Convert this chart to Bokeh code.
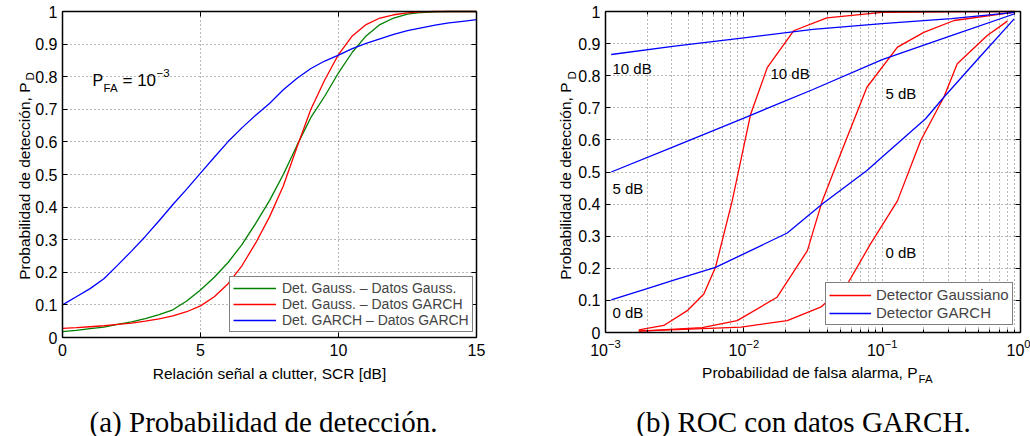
import math
from bokeh.plotting import figure
from bokeh.models import (Range1d, FixedTicker, LinearAxis, LogAxis, Label,
                          Legend, LegendItem, Grid)
from bokeh.layouts import row
from bokeh.embed import file_html
from bokeh.resources import INLINE

# ---------------- panel (a): P_D vs SCR ----------------
scr_db = [0, 0.5, 1, 1.5, 2, 2.5, 3, 3.5, 4, 4.5, 5, 5.5, 6, 6.5, 7, 7.5,
          8, 8.5, 9, 9.5, 10, 10.5, 11, 11.5, 12, 12.5, 13, 13.5, 14, 14.5, 15]
pd_gauss_gauss = [0.018, 0.022, 0.027, 0.032, 0.040, 0.048, 0.058, 0.070, 0.085,
                  0.112, 0.146, 0.185, 0.230, 0.285, 0.350, 0.420, 0.500, 0.590,
                  0.675, 0.740, 0.812, 0.875, 0.925, 0.960, 0.980, 0.992, 0.997,
                  0.999, 1.0, 1.0, 1.0]
pd_gauss_garch = [0.028, 0.030, 0.033, 0.036, 0.040, 0.044, 0.050, 0.057, 0.066,
                  0.079, 0.097, 0.125, 0.165, 0.220, 0.290, 0.370, 0.465, 0.585,
                  0.700, 0.790, 0.868, 0.925, 0.960, 0.980, 0.990, 0.996, 0.999,
                  1.0, 1.0, 1.0, 1.0]
pd_garch_garch = [0.100, 0.125, 0.150, 0.180, 0.222, 0.265, 0.310, 0.358, 0.408,
                  0.455, 0.504, 0.553, 0.601, 0.643, 0.682, 0.718, 0.760, 0.795,
                  0.825, 0.848, 0.866, 0.886, 0.902, 0.916, 0.930, 0.941, 0.950,
                  0.958, 0.965, 0.970, 0.975]
legend_a = ["Det. Gauss. \u2013 Datos Gauss.", "Det. Gauss. \u2013 Datos GARCH",
            "Det. GARCH \u2013 Datos GARCH"]
xticks_a = [0, 5, 10, 15]
yticks = [0, 0.1, 0.2, 0.3, 0.4, 0.5, 0.6, 0.7, 0.8, 0.9, 1]
ytick_labels = ["0", "0.1", "0.2", "0.3", "0.4", "0.5", "0.6", "0.7", "0.8", "0.9", "1"]

# ---------------- panel (b): ROC curves ----------------
pfa_garch_10 = [0.0011, 0.00316, 0.01, 0.0316, 0.1, 0.316, 0.91]
pd_garch_10 = [0.866, 0.892, 0.918, 0.944, 0.962, 0.978, 0.997]
pfa_garch_5 = [0.0011, 0.00316, 0.01, 0.0316, 0.1, 0.316, 0.91]
pd_garch_5 = [0.500, 0.580, 0.668, 0.757, 0.850, 0.925, 0.993]
pfa_garch_0 = [0.0011, 0.002, 0.00316, 0.00624, 0.01, 0.0206, 0.0369, 0.0776,
               0.1, 0.206, 0.279, 0.5, 0.90]
pd_garch_0 = [0.102, 0.137, 0.164, 0.203, 0.245, 0.310, 0.400, 0.505,
              0.547, 0.666, 0.733, 0.855, 0.977]
pfa_gauss_10 = [0.00174, 0.00264, 0.0039, 0.00514, 0.00624, 0.00824, 0.0112,
                0.0148, 0.0229, 0.0398, 0.1, 0.316, 0.91]
pd_gauss_10 = [0.008, 0.022, 0.068, 0.120, 0.203, 0.410, 0.680, 0.826, 0.940,
               0.980, 0.997, 0.999, 1.0]
pfa_gauss_5 = [0.00174, 0.005, 0.00895, 0.0174, 0.0288, 0.0369, 0.0501, 0.0776,
               0.129, 0.2, 0.331, 0.91]
pd_gauss_5 = [0.004, 0.015, 0.037, 0.110, 0.255, 0.410, 0.557, 0.764, 0.889,
              0.935, 0.972, 0.998]
pfa_gauss_0 = [0.00174, 0.00955, 0.0206, 0.0359, 0.0562, 0.0824, 0.129, 0.19,
               0.279, 0.349, 0.575, 0.804]
pd_gauss_0 = [0.004, 0.017, 0.037, 0.079, 0.152, 0.276, 0.410, 0.598, 0.733,
              0.837, 0.925, 0.970]
legend_b = ["Detector Gaussiano", "Detector GARCH"]
xticks_b = [0.001, 0.01, 0.1, 1]
minor_b = [k * 10.0 ** e for e in (-3, -2, -1) for k in range(2, 10)]

SANS = "Liberation Sans"
SERIF = "Liberation Serif"
GRID = "#6e6e6e"
HAS_CROSS = "cross_bounds" in Grid.properties()

# Each figure's frame fills its whole canvas; the plot box is drawn with
# fixed-location axes, so that every text can be placed as a frame label.
H = 436
# ---- figure (a): canvas 0..520 ; box x 62..476, y 11..337
W1 = 520
AX1, BX1, TY1, BY1 = 62, 476, 11, 337
sx1 = (BX1 - AX1) / 15.0
sy1 = float(BY1 - TY1)
p1 = figure(width=W1, height=H,
            x_range=Range1d(-AX1 / sx1, 15 + (W1 - BX1) / sx1),
            y_range=Range1d(-(H - BY1) / sy1, 1 + TY1 / sy1),
            x_axis_location=None, y_axis_location=None,
            output_backend="svg", toolbar_location=None,
            min_border=0)


def pos1(px, py):
    return (px - AX1) / sx1, (BY1 - py) / sy1


# ---- figure (b): canvas 520..1030 ; box x 605..1020, y 11..332
OFF2 = 520
W2 = 510
AX2, BX2, TY2, BY2 = 605 - OFF2, 1020 - OFF2, 11, 332
sx2 = (BX2 - AX2) / 3.0
sy2 = float(BY2 - TY2)
p2 = figure(width=W2, height=H, x_axis_type="log",
            x_range=Range1d(10 ** (-3 - AX2 / sx2), 10 ** ((W2 - BX2) / sx2)),
            y_range=Range1d(-(H - BY2) / sy2, 1 + TY2 / sy2),
            x_axis_location=None, y_axis_location=None,
            output_backend="svg", toolbar_location=None,
            min_border=0)


def pos2(px, py):
    return 10 ** (-3 + (px - OFF2 - AX2) / sx2), (BY2 - py) / sy2


def style_axis(ax, labels=True):
    ax.axis_line_color = "black"
    ax.axis_line_width = 1.5
    ax.major_tick_in = 5
    ax.major_tick_out = 0
    ax.minor_tick_in = 3
    ax.minor_tick_out = 0
    ax.major_tick_line_color = "black"
    ax.minor_tick_line_color = "black"
    ax.major_label_text_font = SANS
    ax.major_label_text_font_size = "16px"
    ax.major_label_text_color = "black"
    if not labels:
        ax.major_label_standoff = 0


for p, log, xb, xt in ((p1, False, (0, 15), FixedTicker(ticks=xticks_a)),
                       (p2, True, (0.001, 1),
                        FixedTicker(ticks=xticks_b, minor_ticks=minor_b))):
    yt = FixedTicker(ticks=yticks)
    p.outline_line_color = None
    p.background_fill_color = "white"
    p.border_fill_color = "white"
    p.center = []
    XA = LogAxis if log else LinearAxis
    bottom = XA(fixed_location=0, bounds=xb, ticker=xt, major_label_standoff=6)
    top = XA(fixed_location=1, bounds=xb, ticker=xt)
    left = LinearAxis(fixed_location=xb[0], bounds=(0, 1), ticker=yt,
                      major_label_standoff=5)
    right = LinearAxis(fixed_location=xb[1], bounds=(0, 1), ticker=yt)
    left.major_label_overrides = {t: s for t, s in zip(yticks, ytick_labels)}
    top.major_label_overrides = {t: "" for t in xt.ticks}
    right.major_label_overrides = {t: "" for t in yticks}
    style_axis(bottom)
    style_axis(left)
    style_axis(top, labels=False)
    style_axis(right, labels=False)
    for ax in (left, right):
        ax.minor_tick_line_color = None
    if not log:
        bottom.minor_tick_line_color = None
        top.minor_tick_line_color = None
    # grid
    if HAS_CROSS:
        gx = Grid(dimension=0, ticker=xt, bounds=xb, cross_bounds=(0, 1),
                  grid_line_color=GRID, grid_line_dash="1 3", grid_line_width=1)
        gy = Grid(dimension=1, ticker=yt, bounds=(0, 1), cross_bounds=xb,
                  grid_line_color=GRID, grid_line_dash="1 3", grid_line_width=1)
        if log:
            gx.minor_grid_line_color = GRID
            gx.minor_grid_line_dash = "1 3"
            gx.minor_grid_line_width = 1
        p.add_layout(gx, "center")
        p.add_layout(gy, "center")
    else:
        vx = list(xt.ticks) + (list(minor_b) if log else [])
        p.segment(x0=vx, y0=[0] * len(vx), x1=vx, y1=[1] * len(vx),
                  line_color=GRID, line_dash="1 3", line_width=1)
        p.segment(x0=[xb[0]] * len(yticks), y0=yticks, x1=[xb[1]] * len(yticks),
                  y1=yticks, line_color=GRID, line_dash="1 3", line_width=1)
    p.add_layout(bottom, "below")
    p.add_layout(top, "above")
    p.add_layout(left, "left")
    p.add_layout(right, "right")

# ---------------- curves (a) ----------------
rg = p1.line(scr_db, pd_gauss_gauss, line_color="#008000", line_width=1.3)
rr = p1.line(scr_db, pd_gauss_garch, line_color="#ff0000", line_width=1.3)
rb = p1.line(scr_db, pd_garch_garch, line_color="#0000ff", line_width=1.3)
leg1 = Legend(items=[LegendItem(label=legend_a[0], renderers=[rg]),
                     LegendItem(label=legend_a[1], renderers=[rr]),
                     LegendItem(label=legend_a[2], renderers=[rb])],
              location=(229, H - 332), margin=0, padding=3,
              spacing=0, glyph_width=43, glyph_height=14, label_height=14,
              label_standoff=6, label_text_font=SANS, label_text_font_size="14px",
              border_line_color="black", border_line_width=1.5,
              background_fill_color="white", background_fill_alpha=1.0)
p1.add_layout(leg1)

# ---------------- curves (b) ----------------
red_r = []
for xs, ys in ((pfa_gauss_10, pd_gauss_10), (pfa_gauss_5, pd_gauss_5),
               (pfa_gauss_0, pd_gauss_0)):
    red_r.append(p2.line(xs, ys, line_color="#ff0000", line_width=1.3))
blue_r = []
for xs, ys in ((pfa_garch_10, pd_garch_10), (pfa_garch_5, pd_garch_5),
               (pfa_garch_0, pd_garch_0)):
    blue_r.append(p2.line(xs, ys, line_color="#0000ff", line_width=1.3))
leg2 = Legend(items=[LegendItem(label=legend_b[0], renderers=[red_r[0]]),
                     LegendItem(label=legend_b[1], renderers=[blue_r[0]])],
              location=(825 - OFF2, H - 325), margin=0, padding=3,
              spacing=1, glyph_width=42, glyph_height=16, label_height=16,
              label_standoff=5, label_text_font=SANS, label_text_font_size="15px",
              border_line_color="black", border_line_width=1.5,
              background_fill_color="white", background_fill_alpha=1.0)
p2.add_layout(leg2)


def add_text(p, posf, px, py, text, size, align="left", baseline="alphabetic",
             angle=0.0, font=SANS):
    x, y = posf(px, py)
    p.add_layout(Label(x=x, y=y, text=text, text_font=font,
                       text_font_size=size, text_align=align,
                       text_baseline=baseline, angle=angle, text_color="black"))


# texts of (a)
add_text(p1, pos1, 269, 373, "Relaci\u00f3n se\u00f1al a clutter, SCR [dB]", "15.5px",
         align="center")
add_text(p1, pos1, 24, 82, "Probabilidad de detecci\u00f3n, P", "15.5px",
         align="right", angle=math.pi / 2)
add_text(p1, pos1, 29, 80, "D", "11.5px", align="left", angle=math.pi / 2)
add_text(p1, pos1, 92, 80, "P", "16px")
add_text(p1, pos1, 103, 87, "FA", "11.5px")
add_text(p1, pos1, 122, 80, "= 10", "17px")
add_text(p1, pos1, 156, 72, "\u22123", "11.5px")
add_text(p1, pos1, 263, 421, "(a) Probabilidad de detecci\u00f3n.", "29px",
         align="center", font=SERIF)

# texts of (b)
add_text(p2, pos2, 917, 372, "Probabilidad de falsa alarma, P", "15.5px",
         align="right")
add_text(p2, pos2, 918, 378, "FA", "11.5px")
add_text(p2, pos2, 565, 82, "Probabilidad de detecci\u00f3n, P", "15.5px",
         align="right", angle=math.pi / 2)
add_text(p2, pos2, 571, 79, "D", "11.5px", align="left", angle=math.pi / 2)
for px, py, t in ((612, 68, "10 dB"), (770, 73, "10 dB"), (885, 93, "5 dB"),
                  (612, 188, "5 dB"), (612, 312, "0 dB"), (885, 252, "0 dB")):
    add_text(p2, pos2, px, py, t, "15px")
add_text(p2, pos2, 803, 421, "(b) ROC con datos GARCH.", "29px", align="center",
         font=SERIF)

layout = row(p1, p2)
open("out.html", "w").write(file_html(layout, INLINE))
